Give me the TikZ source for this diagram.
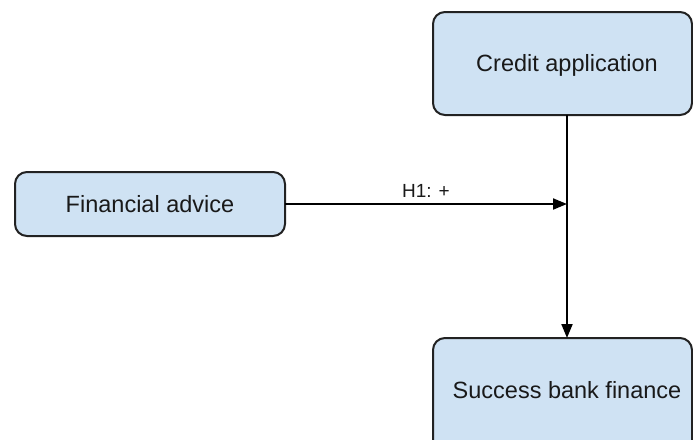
\documentclass[tikz,border=0pt]{standalone}
\usepackage{fontspec}
\setmainfont{Liberation Sans}
\usetikzlibrary{arrows.meta}
\definecolor{boxfill}{HTML}{CFE2F3}
\definecolor{boxline}{HTML}{222222}
\tikzset{
  rbox/.style={draw=boxline, fill=boxfill, line width=2pt, rounded corners=12pt, inner sep=0pt},
  conn/.style={draw=black, line width=2pt, -{Triangle[length=14pt,width=11pt]}},
  lbl/.style={font=\fontsize{23.5}{28}\selectfont, text=black!90}
}
\begin{document}
\begin{tikzpicture}[x=1pt,y=-1pt]
\useasboundingbox (0,0) rectangle (693,439);
\begin{scope}
\clip (0,0) rectangle (693,439);
\draw[rbox] (433,12) rectangle (692,115);
\draw[rbox] (15,172) rectangle (285,236);
\draw[rbox] (433,338) rectangle (692,470);
\end{scope}
\node[lbl] (ca) at (567,65) {Credit application};
\node[lbl] (fa) at (150,204) {Financial advice};
\node[lbl] (sb) at (567,390) {Success bank finance};
\coordinate (caB) at (567,115);
\coordinate (sbT) at (567,338);
\coordinate (faR) at (285,204);
\coordinate (mid) at (567,204);
\draw[conn] (caB) -- (sbT);
\draw[conn] (faR) -- node[pos=0.5, above=2pt, font=\fontsize{19}{23}\selectfont, text=black!90] (h1) {H1: +} (mid);
\end{tikzpicture}
\end{document}
